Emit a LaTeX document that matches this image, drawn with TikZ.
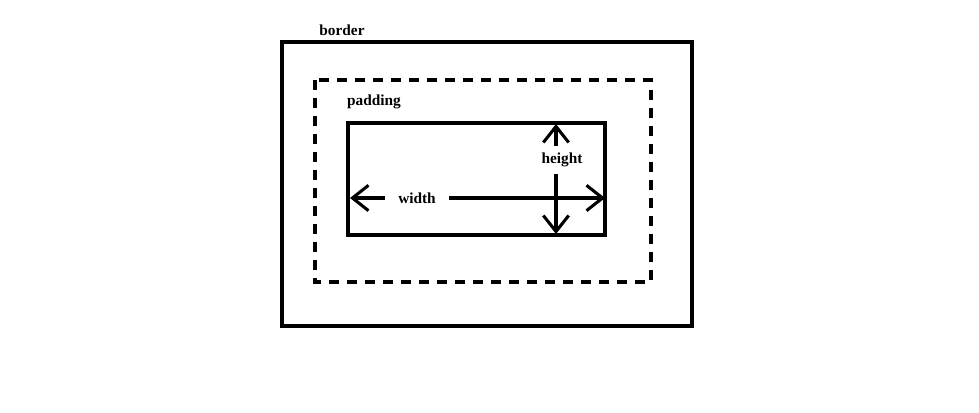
\documentclass[tikz,border=0pt]{standalone}
\usepackage{fontspec}
\setmainfont{Liberation Serif}
\usetikzlibrary{arrows.meta}

\tikzset{
  boxline/.style={line width=2.3pt},
  dimarrow/.style={line width=2.3pt,{Straight Barb[length=12pt,width=19pt]}-{Straight Barb[length=12pt,width=19pt]}},
  lbl/.style={font=\fontsize{11.5}{13}\selectfont\bfseries,inner sep=0pt}
}

\begin{document}
\begin{tikzpicture}[x=0.75pt,y=-0.75pt]
  \useasboundingbox (0,0) rectangle (979,413);
  % outer border, padding and content boxes
  \draw[boxline] (282,42) rectangle (692,326);
  \draw[boxline,dash pattern=on 7.5pt off 6pt] (315,80) rectangle (651,282);
  \draw[boxline] (348,123) rectangle (605,235);
  \coordinate (wl) at (350,198); \coordinate (wr) at (605,198);
  \coordinate (ht) at (556,124); \coordinate (hb) at (556,234);
  \draw[dimarrow] (wl) -- (wr);
  \draw[dimarrow] (ht) -- (hb);
  \node[lbl] (border) at (342,30) {border};
  \node[lbl] (padding) at (374,102) {padding};
  \node[lbl,fill=white,inner xsep=10pt,inner ysep=1pt] (width) at (417,198) {width};
  \node[lbl,fill=white,inner xsep=0pt,inner ysep=5pt] (height) at (562,160) {height};
\end{tikzpicture}
\end{document}
